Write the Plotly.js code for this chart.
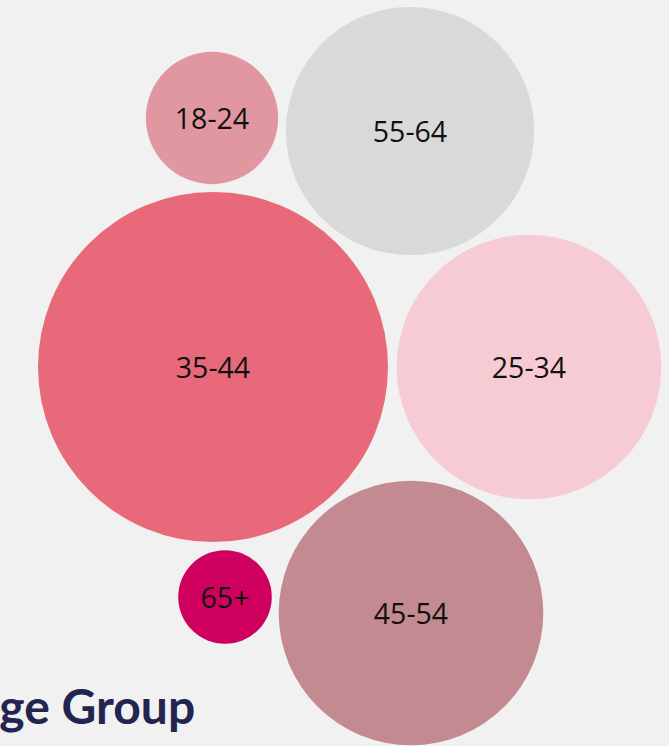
<!DOCTYPE html>
<html>
<head>
<meta charset="utf-8">
<script src="https://cdn.plot.ly/plotly-3.0.1.min.js"></script>
<style>html,body{margin:0;padding:0;background:#f1f1f1;}#chart{width:669px;height:746px;}</style>
</head>
<body>
<div id="chart"></div>
<script>
const categories = ["18-24", "55-64", "35-44", "25-34", "65+", "45-54"];
const shares = [5.0, 17.6, 35.0, 20.0, 2.5, 20.0];
const centerX = [212, 410, 213, 529, 225, 411];
const centerY = [118, 131, 367, 367, 597, 613];
const colors = ["#e0979f", "#d9d9d9", "#e8697a", "#f7cbd3", "#d0005e", "#c38a91"];

const pxPerSqrt = 175 / Math.sqrt(35);
const diam = shares.map(v => 2 * Math.sqrt(v) * pxPerSqrt);

const bubbles = {
  type: "scatter",
  mode: "markers",
  x: centerX,
  y: centerY,
  text: categories,
  marker: {size: diam, sizemode: "diameter", color: colors, opacity: 1, line: {width: 0}},
  hoverinfo: "text",
  cliponaxis: false
};

const labels = {
  type: "scatter",
  mode: "text",
  x: centerX,
  y: centerY.map(v => v + 3.5),
  text: categories,
  textposition: "middle center",
  textfont: {family: "Open Sans, Noto Sans, sans-serif", size: 28.5, color: "#111111"},
  hoverinfo: "skip",
  cliponaxis: false
};

const layout = {
  width: 669, height: 746,
  margin: {l: 0, r: 0, t: 0, b: 0, pad: 0},
  paper_bgcolor: "#f1f1f1",
  plot_bgcolor: "#f1f1f1",
  showlegend: false,
  xaxis: {range: [0, 669], visible: false, fixedrange: true},
  yaxis: {range: [746, 0], visible: false, fixedrange: true},
  annotations: [{
    text: "<b>Age Group</b>",
    xref: "x", yref: "y",
    x: 197, y: 705,
    xanchor: "right", yanchor: "middle",
    showarrow: false,
    font: {family: "Lato, sans-serif", size: 48, color: "#23244f", weight: 900}
  }]
};

Plotly.newPlot("chart", [bubbles, labels], layout, {displayModeBar: false, staticPlot: true});
</script>
</body>
</html>
